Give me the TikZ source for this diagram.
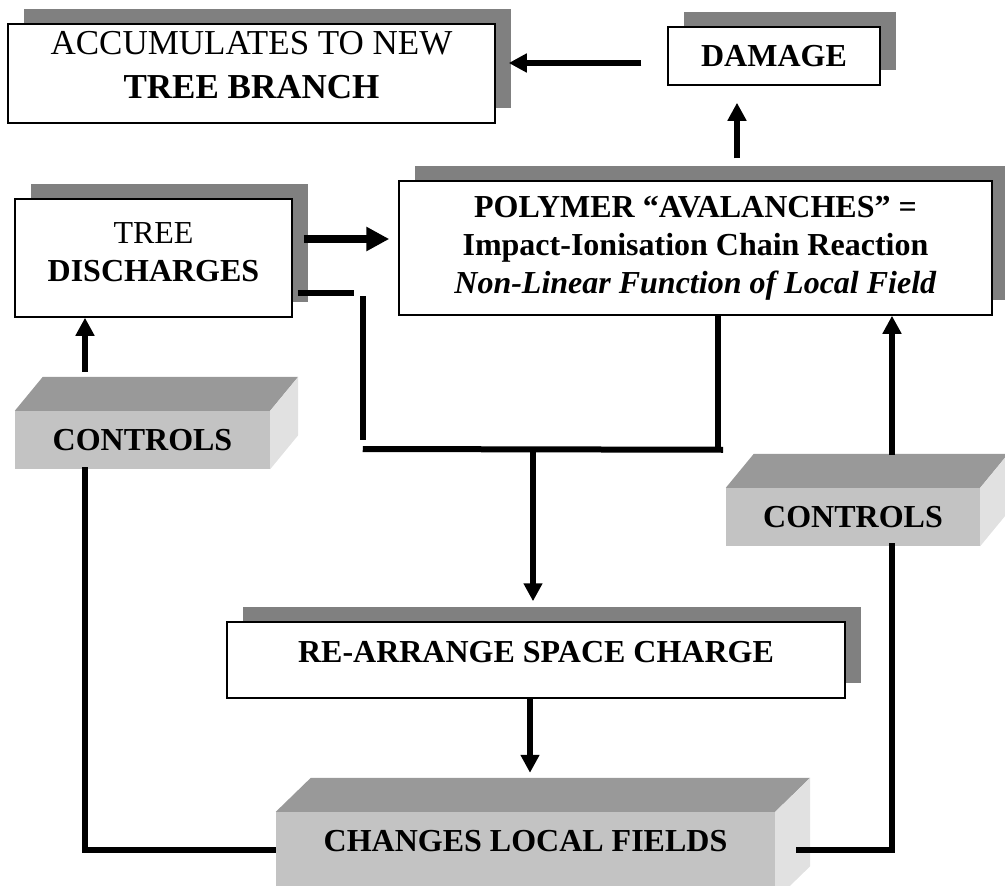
\documentclass[tikz,border=0pt]{standalone}
\usepackage{fontspec}
\setmainfont{Liberation Serif}
\usetikzlibrary{arrows.meta,shadows}

\definecolor{shadowgray}{HTML}{808080}
\definecolor{topgray}{HTML}{999999}
\definecolor{frontgray}{HTML}{C3C3C3}
\definecolor{sidegray}{HTML}{E1E1E1}

\tikzset{
	box/.style={draw, line width=1.5pt, fill=white, inner sep=0pt, align=center,
		font=\fontsize{32}{38}\selectfont,
		general shadow={fill=shadowgray, shadow xshift=16pt, shadow yshift=15pt}},
	boldtext/.style={font=\fontsize{32}{38}\selectfont\bfseries},
	slabface/.style={fill=frontgray, inner sep=0pt, align=center, boldtext},
	link/.style={line width=6pt},
	arrow/.style={link, -{Triangle[length=18pt,width=18pt]}},
}

% top and side faces of a raised block
\newcommand{\blockfaces}[3]{
	\fill[topgray] (#1.north west) -- ++(#2,#3) -- ([shift={(#2,#3)}]#1.north east) -- (#1.north east) -- cycle;
	\fill[sidegray] (#1.north east) -- ([shift={(#2,#3)}]#1.north east) -- ([shift={(#2,#3)}]#1.south east) -- (#1.south east) -- cycle;
}

\begin{document}
\begin{tikzpicture}[x=1pt, y=-1pt]
	\useasboundingbox (0,0) rectangle (1005,886);

	% boxes with shadow
	\node[box, minimum width=487pt, minimum height=99pt, text depth=17pt, font=\fontsize{35}{44}\selectfont] (accum) at (251.5,73.5) {ACCUMULATES TO NEW\\\textbf{TREE BRANCH}};
	\node[box, boldtext, minimum width=212pt, minimum height=58pt] (damage) at (774,56) {DAMAGE};
	\node[box, minimum width=277pt, minimum height=118pt, text depth=11pt] (tree) at (153.5,258) {TREE\\\textbf{DISCHARGES}};
	\node[box, boldtext, minimum width=593pt, minimum height=134pt] (polymer) at (695.5,248) {POLYMER “AVALANCHES” =\\Impact-Ionisation Chain Reaction\\\textit{Non-Linear Function of Local Field}};
	\node[box, boldtext, minimum width=618pt, minimum height=76pt, text depth=16pt] (rearrange) at (536,660) {RE-ARRANGE SPACE CHARGE};

	% raised blocks
	\node[slabface, minimum width=255pt, minimum height=58pt] (ctrlleft) at (142.5,440) {CONTROLS};
	\node[slabface, minimum width=254pt, minimum height=58pt] (ctrlright) at (853,517) {CONTROLS};
	\node[slabface, minimum width=499pt, minimum height=88pt, text depth=30pt] (changes) at (525.5,856) {CHANGES LOCAL FIELDS};
	\blockfaces{ctrlleft}{28}{-34}
	\blockfaces{ctrlright}{28}{-34}
	\blockfaces{changes}{35}{-34}

	% connectors
	\draw[arrow] ([shift={(-26,7)}]damage.west) -- ([shift={(13,-10.5)}]accum.east);
	\draw[arrow] ([shift={(41.5,-22)}]polymer.north) -- ([shift={(-37,17)}]damage.south);
	\draw[link, line width=8pt, -{Triangle[length=23pt,width=23pt]}] ([shift={(11,-19)}]tree.east) -- ([shift={(-9,-9)}]polymer.west);

	\draw[link] ([shift={(5,35)}]tree.east) -- ++(56,0);
	\draw[link] ([shift={(70,38)}]tree.east) -- ++(0,144);
	\draw[link] ([shift={(22.5,0)}]polymer.south) -- ++(0,134);
	\draw[link] ([shift={(70,191)}]tree.east) -- ([shift={(27.5,134)}]polymer.south);
	\coordinate (merge) at ([shift={(-162.5,134)}]polymer.south);
	\draw[arrow] (merge) -- ([shift={(-3,-20)}]rearrange.north);
	\draw[arrow] ([shift={(-6,0)}]rearrange.south) -- ([shift={(4.5,-39)}]changes.north);

	\draw[arrow] ([shift={(-57.5,-39)}]ctrlleft.north) -- ([shift={(-68.5,0)}]tree.south);
	\draw[link] ([shift={(-57.5,-2)}]ctrlleft.south) |- ([shift={(0,-6)}]changes.west);
	\draw[arrow] ([shift={(39,-33)}]ctrlright.north) -- ([shift={(196.5,0)}]polymer.south);
	\draw[link] ([shift={(39,-3)}]ctrlright.south) |- ([shift={(21,-6)}]changes.east);
\end{tikzpicture}
\end{document}
